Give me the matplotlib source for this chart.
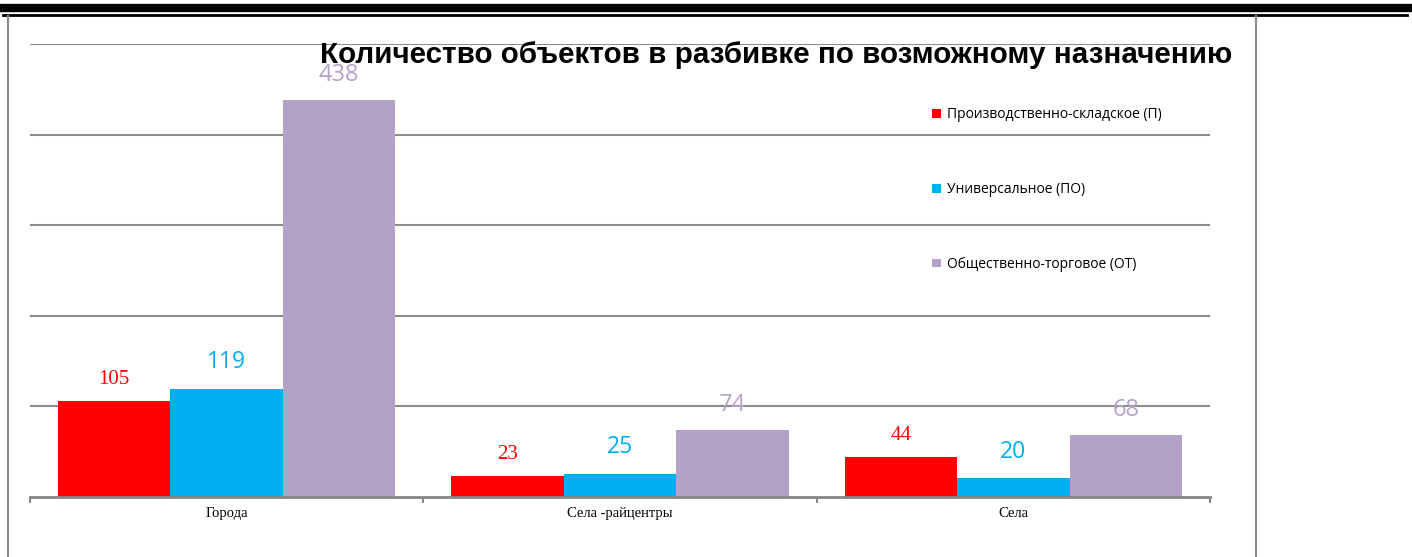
import matplotlib.pyplot as plt
import numpy as np
from matplotlib.lines import Line2D
from matplotlib.patches import Patch

categories = ['Города', 'Села -райцентры', 'Села']
series_names = ['Производственно-складское (П)', 'Универсальное (ПО)', 'Общественно-торговое (ОТ)']
prod_sklad = [105, 23, 44]
universal = [119, 25, 20]
obsh_torg = [438, 74, 68]

colors = ['#ff0000', '#00b0f0', '#b2a2c7']
label_fonts = [('Liberation Serif', 15), ('Open Sans', 16.5), ('Open Sans', 17)]
label_offsets = [15.5, 19, 18]

W, H = 1412, 557
fig = plt.figure(figsize=(W / 100, H / 100), dpi=100)
ax = fig.add_axes([30 / W, (H - 496.5) / H, 1180 / W, (496.5 - 44) / H])

x = np.arange(len(categories))
bw = 1 / 3.5
for i, vals in enumerate([prod_sklad, universal, obsh_torg]):
    pos = x + (i - 1) * bw
    ax.bar(pos, vals, width=bw, color=colors[i], zorder=3, label=series_names[i])
    fam, sz = label_fonts[i]
    for px, v in zip(pos, vals):
        ax.annotate(str(v), (px, v), xytext=(0, label_offsets[i]), textcoords='offset points',
                    ha='center', va='center', color=colors[i], family=fam, fontsize=sz)

ax.set_xlim(-0.5, 2.5)
ax.set_ylim(0, 500)
ax.set_yticks(np.arange(100, 501, 100))
ax.yaxis.grid(True, color='#8c8c8c', linewidth=1.5, zorder=0)
ax.tick_params(axis='y', left=False, labelleft=False)
for s in ['left', 'right', 'top']:
    ax.spines[s].set_visible(False)
ax.spines['bottom'].set_color('#868686')
ax.spines['bottom'].set_linewidth(2)
ax.spines['bottom'].set_zorder(4)

ax.set_xticks([-0.5, 0.5, 1.5, 2.5], minor=False)
ax.set_xticklabels([])
ax.tick_params(axis='x', which='major', length=4, width=1.5, color='#868686')
ax.set_xticks(x, minor=True)
ax.set_xticklabels(categories, minor=True, family='Liberation Serif', fontsize=10.5)
ax.tick_params(axis='x', which='minor', length=0, pad=7.5)

ax.set_title('Количество объектов в разбивке по возможному назначению',
             family='Liberation Sans', fontweight='bold', fontsize=21.3,
             x=(776 - 30) / 1180, y=1.0, pad=-14)

handles = [Patch(facecolor=c) for c in colors]
leg = fig.legend(handles, series_names, loc='upper left', bbox_to_anchor=(920 / W, 1 - 95 / H),
                 frameon=False, prop={'family': 'Open Sans', 'size': 10},
                 handlelength=0.6, handleheight=0.6, handletextpad=0.45, labelspacing=4.3)

# frame lines around the chart
fig.add_artist(Line2D([0, 1], [1 - 8 / H, 1 - 8 / H], color='black', linewidth=6))
fig.add_artist(Line2D([3 / W, 1407 / W], [1 - 15 / H, 1 - 15 / H], color='black', linewidth=2))
fig.add_artist(Line2D([7.5 / W, 7.5 / W], [0, 1 - 16 / H], color='#8a8a8a', linewidth=1.5))
fig.add_artist(Line2D([1256 / W, 1256 / W], [0, 1 - 16 / H], color='#8a8a8a', linewidth=1.5))

fig.savefig('out.png', dpi=100)
